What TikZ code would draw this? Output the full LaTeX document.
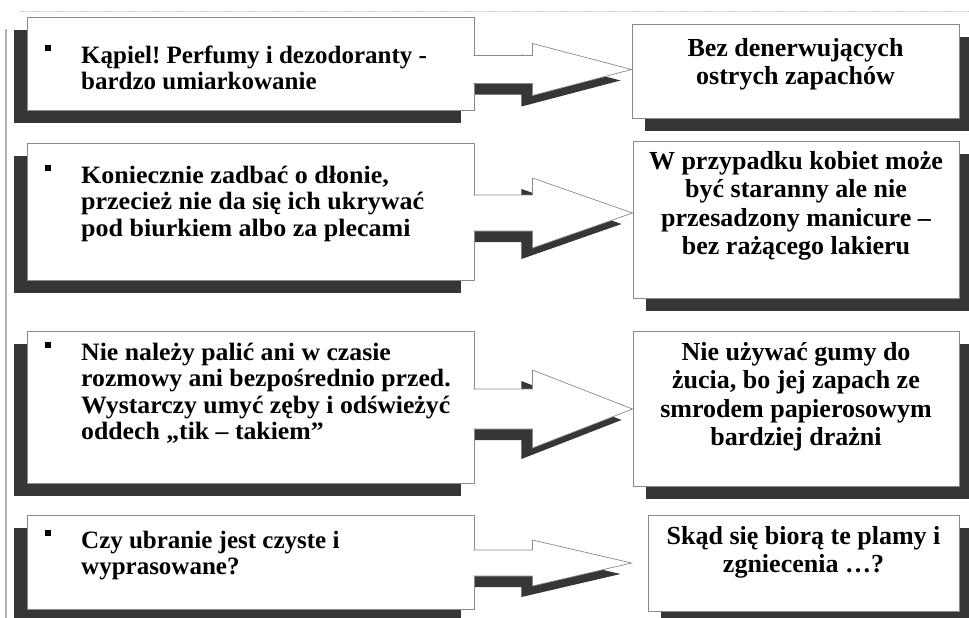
\documentclass[tikz,border=0pt]{standalone}
\usepackage{fontspec}
\setmainfont{Liberation Serif}
\usetikzlibrary{calc}
\usetikzlibrary{backgrounds}
\definecolor{shadowgray}{HTML}{363636}
\definecolor{edgegray}{HTML}{8A8A8A}
\newcommand{\blt}{\makebox[36pt][l]{\rule[12pt]{6pt}{6pt}}}
\newcommand{\ind}{\hspace*{36pt}}
\frenchspacing
\begin{document}
\begin{tikzpicture}[x=1pt,y=-1pt]
    \tikzstyle{box}=[draw=edgegray, fill=white, line width=0.9pt, inner sep=0pt];
    \tikzset{ltext/.style={anchor=north west, align=left, inner sep=0pt,
        font=\fontsize{25}{26.5}\selectfont\bfseries\addfontfeature{FakeStretch=#1},
        execute at begin node={\rule{0pt}{20pt}}}}
    \tikzstyle{rtext}=[anchor=north, align=center, inner sep=0pt, font=\fontsize{26}{28.5}\selectfont\bfseries, execute at begin node={\rule{0pt}{20pt}}];
    \tikzstyle{arrowbox}=[draw=edgegray, fill=white, line width=0.7pt, line join=miter];
    \tikzstyle{shade}=[fill=shadowgray];
    \pgfmathsetmacro{\sh}{13}
    \pgfmathsetmacro{\ash}{11}
    \useasboundingbox (0,0) rectangle (969,618);
    % page edges
    \draw[gray!45, line width=0.5pt, dash pattern=on 1.5pt off 1.5pt] (20,11) -- (969,11);
    \draw[gray!60, line width=1.2pt] (6,29) -- (6,618);
    % boxes
    \foreach \i/\cx/\cy/\w/\h in {l1/250.5/63.5/447/93, l2/250.5/211.5/447/137,
        l3/250.5/407/447/152, l4/250.5/562/447/94, r1/795.5/71/327/94,
        r2/796/219.5/326/157, r3/796/408.5/326/155, r4/803.5/563/311/96} {
      \node[box, minimum width=\w pt, minimum height=\h pt] (\i) at (\cx,\cy) {};
    }
    % arrow ends
    \foreach \i/\d/\dy in {1/0/6, 2/0/1.5, 3/0/2, 4/16/1} {
      \coordinate (a\i) at ($(l\i.east)+(-1,\dy)$);
      \coordinate (tip\i) at ($(l\i.east -| r\i.west)+(-\d,\dy)$);
      \coordinate (sa\i) at ($(a\i)+(-\ash,\ash)$);
      \coordinate (stip\i) at ($(tip\i)+(-\ash,\ash)$);
    }
    % shadows
    \begin{scope}[on background layer]
      \foreach \i in {1,...,4} {
        \fill[shade] ($(l\i.south west)+(-\sh,\sh)$) rectangle ($(l\i.north east)+(-\sh,\sh)$);
        \fill[shade] ($(r\i.south west)+(\sh,\sh)$) rectangle ($(r\i.north east)+(\sh,\sh)$);
      }
      \foreach \i/\s/\t in {1/14/26, 2/18/35, 3/20/39, 4/13/23} {
        \fill[shade] ($(sa\i)+(0,-\s)$) -- ($(sa\i)+(59,-\s)$) -- ($(sa\i)+(59,-\t)$) -- (stip\i)
          -- ($(sa\i)+(59,\t)$) -- ($(sa\i)+(59,\s)$) -- ($(sa\i)+(0,\s)$) -- cycle;
      }
    \end{scope}
    % arrows
    \foreach \i/\s/\t in {1/14/26, 2/18/35, 3/20/39, 4/13/23} {
      \filldraw[arrowbox] ($(a\i)+(0,-\s)$) -- ($(a\i)+(59,-\s)$) -- ($(a\i)+(59,-\t)$) -- (tip\i)
        -- ($(a\i)+(59,\t)$) -- ($(a\i)+(59,\s)$) -- ($(a\i)+(0,\s)$);
    }
    % texts
    \node[ltext=1.0] (lt1) at (45,45) {\blt Kąpiel! Perfumy i dezodoranty -\\\ind bardzo umiarkowanie};
    \node[ltext=1.04] (lt2) at (45,165) {\blt Koniecznie zadbać o dłonie,\\\ind przecież nie da się ich ukrywać\\\ind pod biurkiem albo za plecami};
    \node[ltext=1.03] (lt3) at (45,342) {\blt Nie należy palić ani w czasie\\\ind rozmowy ani bezpośrednio przed.\\\ind Wystarczy umyć zęby i odświeżyć\\\ind oddech „tik – takiem”};
    \node[ltext=1.0] (lt4) at (45,530) {\blt Czy ubranie jest czyste i\\\ind wyprasowane?};
    \node[rtext] (rt1) at (795.5,38) {Bez denerwujących\\ostrych zapachów};
    \node[rtext] (rt2) at (796,151) {W przypadku kobiet może\\być staranny ale nie\\przesadzony manicure –\\bez rażącego lakieru};
    \node[rtext] (rt3) at (796,342) {Nie używać gumy do\\żucia, bo jej zapach ze\\smrodem papierosowym\\bardziej drażni};
    \node[rtext] (rt4) at (803.5,526) {Skąd się biorą te plamy i\\zgniecenia …?};
  \end{tikzpicture}
\end{document}
